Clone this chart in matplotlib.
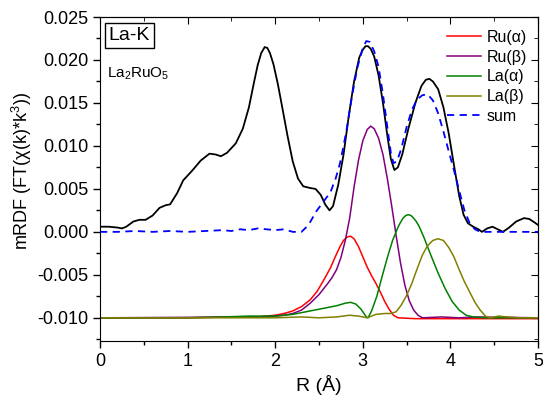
import matplotlib
matplotlib.use("Agg")
import matplotlib.pyplot as plt
from matplotlib.ticker import MultipleLocator

plt.rcParams['font.family'] = ['Liberation Sans', 'DejaVu Sans']
plt.rcParams['mathtext.fontset'] = 'custom'
plt.rcParams['mathtext.rm'] = 'Liberation Sans'
plt.rcParams['mathtext.it'] = 'Liberation Sans:italic'

# experimental curve
r_exp = [0.00, 0.10, 0.20, 0.25, 0.30, 0.38, 0.45, 0.52, 0.60, 0.68, 0.75, 0.80,
         0.88, 0.95, 1.05, 1.15, 1.25, 1.32, 1.38, 1.45, 1.55, 1.63, 1.70, 1.76,
         1.80, 1.84, 1.88, 1.91, 1.94, 1.98, 2.03, 2.08, 2.14, 2.20, 2.26, 2.32,
         2.40, 2.46, 2.52, 2.57, 2.62, 2.66, 2.72, 2.78, 2.84, 2.90, 2.96, 3.00,
         3.03, 3.06, 3.09, 3.13, 3.18, 3.23, 3.28, 3.32, 3.36, 3.40, 3.45, 3.52,
         3.60, 3.67, 3.72, 3.76, 3.80, 3.86, 3.92, 3.98, 4.04, 4.10, 4.15, 4.20,
         4.26, 4.32, 4.36, 4.42, 4.48, 4.54, 4.60, 4.67, 4.75, 4.84, 4.90, 4.96,
         5.00]
y_exp = [0.0006, 0.0006, 0.0005, 0.0004, 0.0006, 0.0012, 0.0014, 0.0014, 0.0019,
         0.0028, 0.0031, 0.0032, 0.0045, 0.0060, 0.0071, 0.0083, 0.0091, 0.0090,
         0.0088, 0.0092, 0.0103, 0.0120, 0.0145, 0.0175, 0.0194, 0.0208, 0.0215,
         0.0214, 0.0208, 0.0195, 0.0172, 0.0145, 0.0112, 0.0082, 0.0062, 0.0053,
         0.0051, 0.0050, 0.0043, 0.0032, 0.0025, 0.0030, 0.0055, 0.0090, 0.0135,
         0.0175, 0.0203, 0.0212, 0.0216, 0.0216, 0.0213, 0.0204, 0.0182, 0.0150,
         0.0112, 0.0085, 0.0072, 0.0075, 0.0090, 0.0120, 0.0150, 0.0170, 0.0177,
         0.0178, 0.0175, 0.0166, 0.0145, 0.0115, 0.0078, 0.0042, 0.0020, 0.0010,
         0.0006, 0.0003, 0.0000, 0.0004, 0.0006, 0.0003, 0.0000, 0.0005, 0.0012,
         0.0016, 0.0015, 0.0011, 0.0008]

# fit sum
r_sum = [0.0, 0.2, 0.4, 0.6, 0.8, 1.0, 1.2, 1.4, 1.5, 1.6, 1.7, 1.8, 1.9, 2.0,
         2.1, 2.2, 2.3, 2.38, 2.47, 2.55, 2.63, 2.69, 2.74, 2.78, 2.82, 2.88,
         2.94, 3.00, 3.04, 3.08, 3.13, 3.18, 3.23, 3.28, 3.32, 3.35, 3.39, 3.44,
         3.50, 3.56, 3.62, 3.68, 3.74, 3.80, 3.86, 3.92, 3.98, 4.04, 4.10, 4.16,
         4.22, 4.28, 4.34, 4.5, 4.7, 5.0]
y_sum = [0.0000, 0.0000, 0.0001, 0.0000, 0.0001, 0.0000, 0.0001, 0.0002, 0.0001,
         0.0003, 0.0002, 0.0004, 0.0003, 0.0002, 0.0003, 0.0000, 0.0000, 0.0008,
         0.0024, 0.0035, 0.0046, 0.0062, 0.0080, 0.0100, 0.0122, 0.0160, 0.0192,
         0.0214, 0.0222, 0.0221, 0.0210, 0.0192, 0.0160, 0.0122, 0.0092, 0.0080,
         0.0082, 0.0097, 0.0122, 0.0142, 0.0154, 0.0159, 0.0160, 0.0153, 0.0138,
         0.0117, 0.0094, 0.0072, 0.0048, 0.0025, 0.0010, 0.0003, 0.0000, 0.0000,
         0.0000, 0.0000]

# Ru(alpha)
r_ru_a = [0.0, 1.0, 1.5, 1.8, 2.0, 2.1, 2.2, 2.3, 2.4, 2.48, 2.56, 2.63, 2.69,
          2.74, 2.78, 2.82, 2.86, 2.90, 2.95, 3.00, 3.05, 3.10, 3.15, 3.20,
          3.25, 3.30, 3.35, 3.40, 3.6, 5.0]
y_ru_a = [-0.0100, -0.0100, -0.0099, -0.0099, -0.0097, -0.0095, -0.0092, -0.0087,
          -0.0079, -0.0069, -0.0055, -0.0042, -0.0028, -0.0017, -0.0010, -0.0006,
          -0.0005, -0.0008, -0.0017, -0.0029, -0.0041, -0.0051, -0.0060, -0.0070,
          -0.0081, -0.0090, -0.0097, -0.0100, -0.0101, -0.0101]

# Ru(beta)
r_ru_b = [0.0, 1.8, 2.0, 2.1, 2.2, 2.3, 2.4, 2.5, 2.60, 2.65, 2.70, 2.75, 2.80,
          2.85, 2.90, 2.95, 3.00, 3.05, 3.09, 3.13, 3.18, 3.23, 3.28, 3.33,
          3.38, 3.43, 3.48, 3.53, 3.58, 3.63, 3.68, 3.9, 4.1, 4.3, 5.0]
y_ru_b = [-0.0100, -0.0099, -0.0098, -0.0097, -0.0095, -0.0091, -0.0083, -0.0073,
          -0.0060, -0.0053, -0.0044, -0.0030, -0.0010, 0.0016, 0.0052, 0.0083,
          0.0106, 0.0119, 0.0123, 0.0120, 0.0109, 0.0090, 0.0062, 0.0030,
          -0.0004, -0.0036, -0.0062, -0.0080, -0.0091, -0.0097, -0.0100, -0.0099,
          -0.0100, -0.0099, -0.0100]

# La(alpha)
r_la_a = [0.0, 1.0, 1.4, 1.7, 2.0, 2.2, 2.4, 2.55, 2.7, 2.8, 2.86, 2.92, 2.98,
          3.04, 3.06, 3.10, 3.16, 3.22, 3.28, 3.34, 3.40, 3.43, 3.46, 3.49,
          3.52, 3.55, 3.58, 3.61, 3.64, 3.67, 3.70, 3.78, 3.86, 3.94, 4.02,
          4.10, 4.18, 4.26, 4.40, 5.0]
y_la_a = [-0.0100, -0.0100, -0.0099, -0.0098, -0.0098, -0.0096, -0.0092, -0.0089,
          -0.0086, -0.0083, -0.0082, -0.0084, -0.0090, -0.0099, -0.0100, -0.0092,
          -0.0075, -0.0052, -0.0030, -0.0010, 0.0005, 0.0011, 0.0016, 0.0019,
          0.0020, 0.0019, 0.0016, 0.0012, 0.0007, 0.0000, -0.0007, -0.0028,
          -0.0048, -0.0066, -0.0081, -0.0091, -0.0097, -0.0099, -0.0100, -0.0100]

# La(beta)
r_la_b = [0.0, 0.5, 1.0, 1.5, 2.0, 2.3, 2.5, 2.7, 2.85, 2.95, 3.05, 3.15, 3.25,
          3.32, 3.38, 3.44, 3.50, 3.56, 3.62, 3.68, 3.74, 3.80, 3.86, 3.92,
          3.98, 4.04, 4.10, 4.16, 4.22, 4.28, 4.34, 4.40, 4.45, 4.55, 4.65,
          4.8, 5.0]
y_la_b = [-0.0100, -0.0100, -0.0100, -0.0100, -0.0100, -0.0099, -0.0100, -0.0099,
          -0.0097, -0.0098, -0.0100, -0.0096, -0.0095, -0.0095, -0.0093, -0.0085,
          -0.0074, -0.0060, -0.0043, -0.0027, -0.0016, -0.0010, -0.0008, -0.0010,
          -0.0018, -0.0029, -0.0044, -0.0058, -0.0070, -0.0082, -0.0091, -0.0098,
          -0.0100, -0.0098, -0.0099, -0.0100, -0.0100]

fig = plt.figure(figsize=(5.43, 4.01), dpi=100)
ax = fig.add_axes([0.1842, 0.1496, 0.8066, 0.808])

ax.plot(r_exp, y_exp, color='black', lw=1.3)
ax.plot(r_ru_a, y_ru_a, color='#ff0000', lw=1.1, label='Ru(α)')
ax.plot(r_ru_b, y_ru_b, color='#800080', lw=1.1, label='Ru(β)')
ax.plot(r_la_a, y_la_a, color='#008000', lw=1.1, label='La(α)')
ax.plot(r_la_b, y_la_b, color='#808000', lw=1.1, label='La(β)')
ax.plot(r_sum, y_sum, color='#0000ff', lw=1.3, ls=(0, (4, 3)), label='sum')

ax.set_xlim(0, 5)
ax.set_ylim(-0.0127, 0.025)
ax.xaxis.set_major_locator(MultipleLocator(1))
ax.xaxis.set_minor_locator(MultipleLocator(0.5))
ax.yaxis.set_major_locator(MultipleLocator(0.005))
ax.yaxis.set_minor_locator(MultipleLocator(0.0025))
ax.yaxis.set_major_formatter(plt.FuncFormatter(lambda v, p: f"{v:.3f}"))
ax.tick_params(which='both', direction='out', top=False, right=False, labelsize=13)
ax.tick_params(which='major', length=5, width=1)
ax.tick_params(which='minor', length=3, width=1)
# mirrored ticks pointing inward on top / right
ax2 = ax.secondary_xaxis('top')
ax2.xaxis.set_major_locator(MultipleLocator(1))
ax2.xaxis.set_minor_locator(MultipleLocator(0.5))
ax2.tick_params(which='both', direction='in', labeltop=False)
ax2.tick_params(which='major', length=5)
ax2.tick_params(which='minor', length=3)
ay2 = ax.secondary_yaxis('right')
ay2.yaxis.set_major_locator(MultipleLocator(0.005))
ay2.yaxis.set_minor_locator(MultipleLocator(0.0025))
ay2.tick_params(which='both', direction='in', labelright=False)
ay2.tick_params(which='major', length=5)
ay2.tick_params(which='minor', length=3)

ax.set_xlabel('R (Å)', fontsize=14, labelpad=4)
ax.set_ylabel('mRDF (FT(χ(k)*k$^3$))', fontsize=13)
ax.yaxis.set_label_coords(-0.150, 0.525)

ax.text(0.02, 0.968, 'La-K', transform=ax.transAxes, fontsize=14, va='top', ha='left',
        bbox=dict(boxstyle='square,pad=0.2', fc='white', ec='black', lw=1))
ax.text(0.015, 0.85, r'La$_2$RuO$_5$', transform=ax.transAxes, fontsize=11,
        va='top', ha='left')

ax.legend(loc='upper right', frameon=False, fontsize=11.5, handlelength=2.1,
          handletextpad=0.35, labelspacing=0.3, borderaxespad=0.3,
          bbox_to_anchor=(1.0, 0.995))

fig.savefig('out.png', dpi=100)
